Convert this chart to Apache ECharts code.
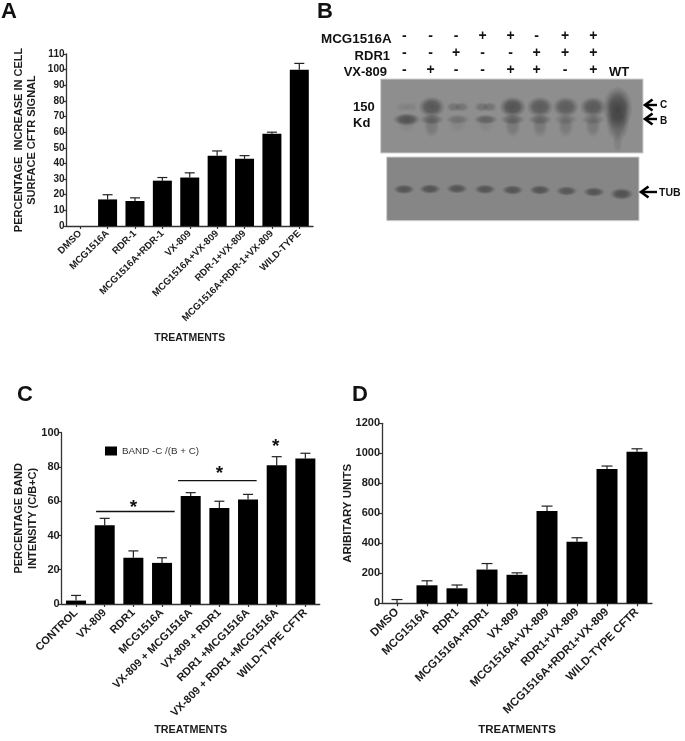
<!DOCTYPE html>
<html><head><meta charset="utf-8">
<style>html,body{margin:0;padding:0;background:#fff}#c{width:685px;height:741px;filter:blur(0.45px)}</style>
<script src="https://cdn.jsdelivr.net/npm/echarts@6/dist/echarts.min.js"></script>
</head><body><div id="c"></div>
<script>
const catsA=['DMSO','MCG1516A','RDR-1','MCG1516A+RDR-1','VX-809','MCG1516A+VX-809','RDR-1+VX-809','MCG1516A+RDR-1+VX-809','WILD-TYPE'];
const valsA=[0,17,16,29,31,45,43,59,100];
const topsA=[0,20,18,31,34,48,45,60,104];
const catsC=['CONTROL','VX-809','RDR1','MCG1516A','VX-809 + MCG1516A','VX-809 + RDR1','RDR1 +MCG1516A','VX-809 + RDR1 +MCG1516A','WILD-TYPE CFTR'];
const valsC=[2,46,27,24,63,56,61,81,85];
const topsC=[5,50,31,27,65,60,64,86,88];
const catsD=['DMSO','MCG1516A','RDR1','MCG1516A+RDR1','VX-809','MCG1516A+VX-809','RDR1+VX-809','MCG1516A+RDR1+VX-809','WILD-TYPE CFTR'];
const valsD=[0,120,100,225,190,615,410,895,1010];
const topsD=[25,150,122,265,203,648,437,915,1030];
const sigLevels=[54,72];
const rowMCG=['-','-','-','+','+','-','+','+'];
const rowRDR=['-','-','+','-','-','+','+','+'];
const rowVX=['-','+','-','-','+','+','-','+'];
const bandC=[0.1,0.85,0.4,0.42,0.9,0.78,0.75,0.8,1];
const bandB=[0.95,0.7,0.42,0.68,0.68,0.6,0.4,0.45,0.9];
const bandTub=[0.85,0.85,0.85,0.85,0.85,0.85,0.8,0.85,0.9];

const FF='"Liberation Sans"', INK='#1c1c1c';
// Panel layout (page pixels on the hidden blot axes)
const laneX=[406.7,431.7,457.7,485.7,512.7,540,565.7,593,617.7];
const tubX=[404,430,457,485,512.7,540,566.7,594,621.7];
const tubY=[189.3,189,188.7,189.3,190,190,191,192,194];
const signX=[404.3,430.7,456,482.7,510.7,536.7,565,593.3];

function catAxis(grid,cats,name,size,nameSize,gap,margin){return {
  gridIndex:grid,type:'category',data:cats,name,nameLocation:'middle',nameGap:gap,nameMoveOverlap:false,
  nameTextStyle:{fontFamily:FF,fontWeight:'bold',fontSize:nameSize,color:INK},
  axisLine:{lineStyle:{color:'#333',width:1.3}},
  axisTick:{show:true,alignWithLabel:true,length:3,lineStyle:{color:'#333',width:1.2}},
  axisLabel:{interval:0,rotate:45,margin,fontFamily:FF,fontWeight:'bold',fontSize:size,color:INK,hideOverlap:false},
  splitLine:{show:false}}}
function valAxis(grid,max,interval,name,size,nameSize,gap,lh){return {
  gridIndex:grid,type:'value',min:0,max,interval,name,nameLocation:'middle',nameGap:gap,nameMoveOverlap:false,
  nameTextStyle:{fontFamily:FF,fontWeight:'bold',fontSize:nameSize,color:INK,lineHeight:lh},
  axisLine:{show:true,lineStyle:{color:'#333',width:1.3}},
  axisTick:{show:true,length:3,lineStyle:{color:'#333',width:1.2}},
  axisLabel:{margin:2,fontFamily:FF,fontWeight:'bold',fontSize:size,color:INK,formatter:v=>String(v)},
  splitLine:{show:false}}}
function bars(i,name,vals,w){return {type:'bar',name,xAxisIndex:i,yAxisIndex:i,data:vals,barWidth:w,
  itemStyle:{color:'#000'},silent:true}}
function errs(i,vals,tops,cap){return {type:'custom',xAxisIndex:i,yAxisIndex:i,silent:true,z:1,
  data:vals.map((v,k)=>[k,v,tops[k]]),
  renderItem(p,api){const a=api.coord([api.value(0),api.value(1)]),b=api.coord([api.value(0),api.value(2)]);
    const st={stroke:'#222',lineWidth:1.2,fill:null};
    if(api.value(2)<=api.value(1))return {type:'group',children:[]};
    return {type:'group',children:[
      {type:'line',shape:{x1:a[0],y1:a[1],x2:b[0],y2:b[1]},style:st},
      {type:'line',shape:{x1:b[0]-cap,y1:b[1],x2:b[0]+cap,y2:b[1]},style:st}]}}}}

const starText=(x,y)=>({type:'text',style:{x,y,text:'*',align:'center',verticalAlign:'middle',font:'bold 19px '+FF,fill:'#111'}});
const sigSeries={type:'custom',xAxisIndex:1,yAxisIndex:1,silent:true,clip:false,
  data:[[1,3,sigLevels[0],-0.3,0.44],[4,6,sigLevels[1],-0.44,0.3]],
  renderItem(p,api){const bw=api.size([1,0])[0];
    const l=api.coord([api.value(0),api.value(2)]),r=api.coord([api.value(1),api.value(2)]);
    const x1=l[0]+api.value(3)*bw,x2=r[0]+api.value(4)*bw;
    return {type:'group',children:[
      {type:'line',shape:{x1,y1:l[1],x2,y2:l[1]},style:{stroke:'#111',lineWidth:1.3}},
      starText((x1+x2)/2+(p.dataIndex?2:-2),l[1]+(p.dataIndex?-7:-4))]}}};
const starSeries={type:'custom',xAxisIndex:1,yAxisIndex:1,silent:true,clip:false,
  data:[[7,topsC[7]]],
  renderItem(p,api){const c=api.coord([api.value(0),api.value(1)]);return starText(c[0]-1,c[1]-10)}};

// Panel B: hidden axes whose units equal page pixels
function blotChildren(api){
  const P=(x,y)=>api.coord([x,y]), kids=[];
  const rect=(x0,y0,x1,y1,fill)=>{const a=P(x0,y0),b=P(x1,y1);
    kids.push({type:'rect',shape:{x:a[0],y:a[1],width:b[0]-a[0],height:b[1]-a[1]},style:{fill,stroke:'#cfcfcf',lineWidth:1}})};
  rect(380.7,79,643,153,'#8e8e8e'); rect(386.7,157,639,220.7,'#868686');
  const blob=(x,y,rx,ry,a)=>{const c=P(x,y);
    const col=t=>`rgba(45,45,45,${t})`;
    kids.push({type:'circle',x:c[0],y:c[1],scaleX:rx/10,scaleY:ry/10,shape:{cx:0,cy:0,r:10},
      style:{fill:{type:'radial',x:0.5,y:0.5,r:0.5,colorStops:[
        {offset:0,color:col(a)},{offset:0.5,color:col(a*0.85)},{offset:0.8,color:col(a*0.3)},{offset:1,color:col(0)}]}}})};
  laneX.forEach((x,i)=>{
    const wt=i===8, c=bandC[i], b=bandB[i];
    if(wt){
      blob(x,108,15,22,0.62);blob(x,122,12,20,0.42);blob(x,106,12,8,0.2);blob(x,142,5,12,0.14);
    }else if(c>0.6){
      blob(x,107,13.5,10.5,0.68*c);
      blob(x,119.5,12.5,5.5,0.55*b);
      blob(x,126,8,12,0.22);
    }else{
      blob(x-4,107,7.5,5,0.55*c+0.05);blob(x+4,107,7.5,5,0.55*c+0.05);
      blob(x,119.5,i===0?14:12.5,i===0?6.5:5,0.62*b);
      blob(x,124,9,10,0.08);
    }
  });
  tubX.forEach((x,i)=>blob(x,tubY[i],i===8?12:11,i===8?6:5,bandTub[i]*0.68));
  const arrow=(tip,end,y)=>{const a=P(tip,y),b=P(end,y);
    kids.push({type:'polyline',shape:{points:[[a[0]+7.5,a[1]-5.5],[a[0],a[1]],[a[0]+7.5,a[1]+5.5]]},style:{stroke:'#000',lineWidth:2.6,fill:null}});
    kids.push({type:'line',shape:{x1:a[0],y1:a[1],x2:b[0],y2:b[1]},style:{stroke:'#000',lineWidth:2.4}})};
  arrow(645,657,105);arrow(645,657,119);arrow(641,657,192);
  const txt=(s,x,y,size,align)=>{const c=P(x,y);
    kids.push({type:'text',style:{x:c[0],y:c[1],text:s,align:align||'left',verticalAlign:'middle',font:`bold ${size}px ${FF}`,fill:'#111'}})};
  txt('C',660,105.5,10);txt('B',660,121,10);txt('TUB',659,193.5,10.5);
  txt('150',353,107.5,13);txt('Kd',353,123.5,13);
  txt('MCG1516A',391.7,39.5,13.4,'right');txt('RDR1',390,56,13,'right');txt('VX-809',387,72,13,'right');
  txt('WT',619,72,13,'center');
  [[rowMCG,36.5],[rowRDR,53.5],[rowVX,70.5]].forEach(([row,y])=>row.forEach((s,i)=>txt(s,signX[i],y,14,'center')));
  return kids;
}
const blotSeries={type:'custom',xAxisIndex:3,yAxisIndex:3,silent:true,clip:false,data:[[0,0]],
  renderItem(p,api){return {type:'group',children:blotChildren(api)}}};

const letter=(text,left,top)=>({text,left,top,padding:0,textStyle:{fontFamily:FF,fontWeight:'bold',fontSize:22,color:'#111'}});
const chart=echarts.init(document.getElementById('c'),null,{renderer:'canvas'});
chart.setOption({
  animation:false,backgroundColor:'#fff',
  title:[letter('A',1,1),letter('B',317,1),letter('C',17,384),letter('D',352,384)],
  legend:{data:['BAND -C /(B + C)'],selectedMode:false,left:105,top:446,padding:0,itemWidth:12,itemHeight:9,itemGap:5,
    icon:'rect',textStyle:{fontFamily:FF,fontSize:9.8,color:'#333'}},
  grid:[
    {left:66.5,top:54,width:246.5,height:172},
    {left:61.7,top:432.7,width:258,height:171.3},
    {left:382,top:423.3,width:270,height:180},
    {left:310,top:0,width:375,height:230}],
  xAxis:[
    catAxis(0,catsA,'TREATMENTS',9.7,10.5,107,6),
    catAxis(1,catsC,'TREATMENTS',11,10.8,121,7),
    catAxis(2,catsD,'TREATMENTS',11.5,11.5,121,7),
    {gridIndex:3,type:'value',min:310,max:685,show:false}],
  yAxis:[
    valAxis(0,110,10,'PERCENTAGE  INCREASE IN CELL\nSURFACE CFTR SIGNAL',10,11,28,13),
    valAxis(1,100,20,'PERCENTAGE BAND\nINTENSITY (C/B+C)',11,11,22,14),
    valAxis(2,1200,200,'ARIBITARY UNITS',11,11.5,27,14),
    {gridIndex:3,type:'value',min:0,max:230,inverse:true,show:false}],
  series:[
    bars(0,'A',valsA,19),errs(0,valsA,topsA,5),
    bars(1,'BAND -C /(B + C)',valsC,20),errs(1,valsC,topsC,5),sigSeries,starSeries,
    bars(2,'D',valsD,21),errs(2,valsD,topsD,5.5),
    blotSeries]
});
</script></body></html>
